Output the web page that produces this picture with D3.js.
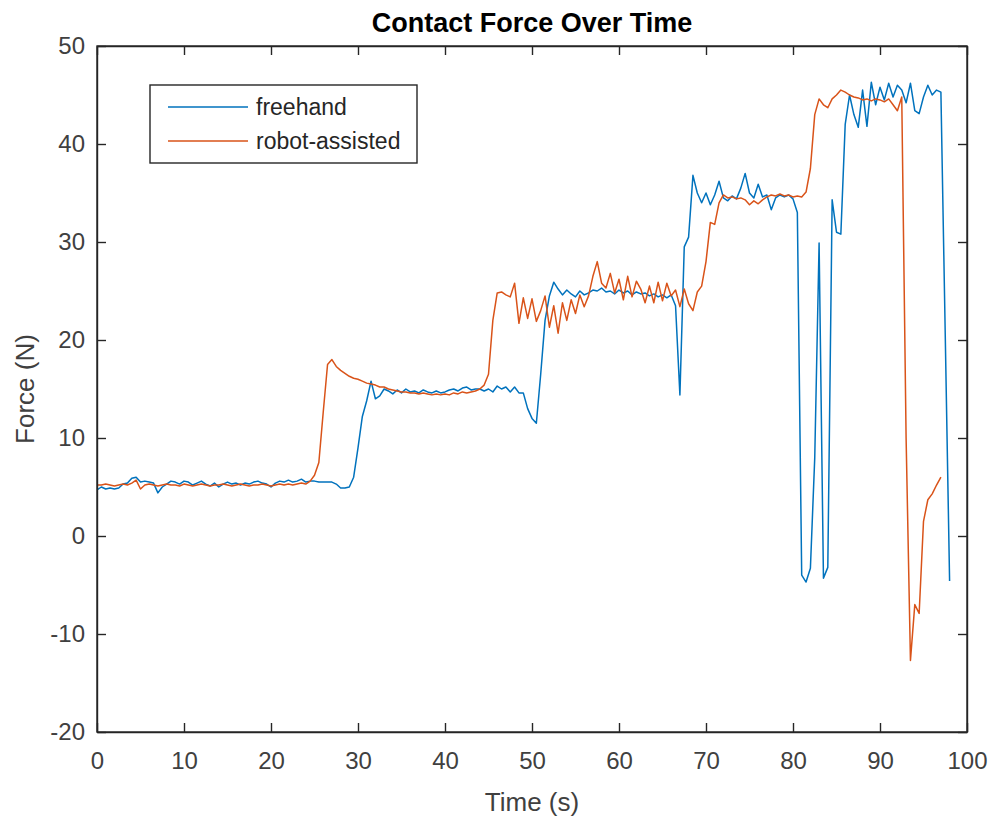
<!DOCTYPE html>
<html>
<head>
<meta charset="utf-8">
<script src="https://cdn.jsdelivr.net/npm/d3@7"></script>
<style>
  html, body { margin: 0; padding: 0; background: #fff; }
  svg { display: block; font-family: "Liberation Sans", Arial, Helvetica, sans-serif; }
</style>
</head>
<body>
<svg id="chart" width="991" height="818"></svg>
<script>
// Sampling interval of both force recordings (seconds)
const sampleStep = 0.5;

// Freehand contact force (N), one value every 0.5 s starting at t = 0
const freehandForce = [
  4.7, 5.0, 4.8, 4.9, 4.8, 4.9, 5.3, 5.4, 5.9, 6.0,
  5.5, 5.6, 5.5, 5.4, 4.4, 5.0, 5.3, 5.6, 5.5, 5.3,
  5.6, 5.5, 5.2, 5.4, 5.6, 5.3, 5.1, 5.4, 5.0, 5.3,
  5.5, 5.3, 5.4, 5.2, 5.4, 5.3, 5.5, 5.6, 5.4, 5.3,
  5.0, 5.4, 5.6, 5.5, 5.7, 5.5, 5.6, 5.8, 5.5, 5.6,
  5.6, 5.5, 5.5, 5.5, 5.5, 5.3, 4.9, 4.9, 5.0, 6.0,
  9.0, 12.2, 13.8, 15.8, 14.0, 14.3, 15.0, 14.8, 14.5, 14.9,
  14.6, 15.0, 14.7, 14.8, 14.6, 14.9, 14.7, 14.6, 14.8, 14.6,
  14.7, 14.9, 15.0, 14.8, 15.1, 15.2, 14.9, 15.0, 15.0, 14.8,
  15.0, 14.7, 15.3, 15.0, 15.2, 14.7, 15.2, 14.6, 14.6, 13.0,
  12.0, 11.5, 16.5, 22.0, 24.5, 25.9, 25.2, 24.6, 25.1, 24.7,
  24.4, 25.0, 24.6, 24.8, 25.1, 25.0, 25.3, 24.9, 25.0, 24.7,
  25.1, 24.8, 25.0, 24.6, 24.9, 24.7, 24.8, 24.5, 24.7, 24.4,
  24.6, 24.3, 24.6, 23.5, 14.4, 29.5, 30.5, 36.8, 35.0, 34.0,
  35.0, 33.8, 34.8, 36.2, 34.5, 34.2, 34.7, 34.4, 35.5, 37.0,
  35.0, 34.5, 35.9, 34.6, 34.8, 33.3, 34.5, 34.8, 34.6, 34.8,
  34.4, 33.0, -4.0, -4.7, -3.3, 8.0, 29.9, -4.3, -3.2, 34.3,
  31.0, 30.8, 42.0, 45.0, 43.0, 41.7, 45.5, 41.8, 46.3, 44.0,
  45.8, 44.5, 46.2, 44.8, 46.0, 45.5, 44.2, 46.2, 43.4, 43.1,
  44.8, 46.0, 45.0, 45.5, 45.3, 20.5, -4.6
];

// Robot-assisted contact force (N), one value every 0.5 s starting at t = 0
const robotForce = [
  5.2, 5.2, 5.3, 5.2, 5.1, 5.2, 5.3, 5.2, 5.4, 5.7,
  4.8, 5.2, 5.3, 5.2, 5.1, 5.2, 5.3, 5.2, 5.2, 5.1,
  5.3, 5.2, 5.1, 5.2, 5.3, 5.2, 5.1, 5.2, 5.2, 5.3,
  5.2, 5.1, 5.2, 5.3, 5.2, 5.1, 5.2, 5.2, 5.3, 5.2,
  5.1, 5.2, 5.3, 5.2, 5.3, 5.2, 5.3, 5.4, 5.3, 5.6,
  6.2, 7.5, 12.6, 17.5, 18.0, 17.3, 16.9, 16.6, 16.3, 16.1,
  16.0, 15.8, 15.6, 15.5, 15.4, 15.2, 15.2, 15.0, 14.9, 14.8,
  14.7, 14.7, 14.6, 14.6, 14.5, 14.6, 14.5, 14.4, 14.5, 14.4,
  14.5, 14.4, 14.6, 14.5, 14.7, 14.6, 14.7, 14.8, 15.0, 15.4,
  16.5, 22.0, 24.8, 24.9, 24.6, 24.4, 25.8, 21.7, 24.3, 22.2,
  24.2, 21.9, 23.0, 24.5, 21.3, 23.5, 20.7, 23.8, 22.0, 24.1,
  22.7, 24.6, 23.4, 24.5, 26.5, 28.0, 25.8, 25.3, 26.8, 24.8,
  26.2, 24.1, 26.5, 24.4, 26.0, 25.2, 23.8, 25.5, 23.8, 25.9,
  24.0, 25.8, 24.5, 25.1, 23.4, 25.2, 23.7, 23.0, 24.9, 25.5,
  28.0, 32.0, 31.8, 34.0, 34.8, 34.5, 34.6, 34.4, 34.5, 34.3,
  33.8, 34.2, 33.9, 34.3, 34.6, 34.8, 34.7, 34.9, 34.7, 34.8,
  34.6, 34.7, 34.6, 35.1, 37.5, 43.0, 44.6, 44.0, 43.7, 44.6,
  45.0, 45.5, 45.3, 45.0, 44.8, 44.7, 44.5, 44.6, 44.4, 44.6,
  44.5, 44.3, 44.6, 44.0, 43.4, 44.8, 10.0, -12.7, -7.0, -7.9,
  1.5, 3.7, 4.3, 5.2, 6.0
];

const seriesNames = ["freehand", "robot-assisted"];
const seriesColors = ["#0072BD", "#D95319"];

const xTicks = [0, 10, 20, 30, 40, 50, 60, 70, 80, 90, 100];
const yTicks = [-20, -10, 0, 10, 20, 30, 40, 50];

const titleText = "Contact Force Over Time";
const xLabelText = "Time (s)";
const yLabelText = "Force (N)";

// ---- layout ----
const svg = d3.select("#chart");
const plot = { left: 97, top: 46, right: 967, bottom: 732 };
const axisColor = "#262626";
const tickTextColor = "#404040";

const x = d3.scaleLinear().domain([0, 100]).range([plot.left, plot.right]);
const y = d3.scaleLinear().domain([-20, 50]).range([plot.bottom, plot.top]);

const toPoints = vals => vals.map((v, i) => [i * sampleStep, v]);
const series = [toPoints(freehandForce), toPoints(robotForce)];

// clip lines to the axes box
svg.append("defs").append("clipPath").attr("id", "plotClip")
  .append("rect")
  .attr("x", plot.left).attr("y", plot.top)
  .attr("width", plot.right - plot.left).attr("height", plot.bottom - plot.top);

// data lines
const line = d3.line().x(d => x(d[0])).y(d => y(d[1]));
const lines = svg.append("g").attr("clip-path", "url(#plotClip)");
series.forEach((pts, i) => {
  lines.append("path")
    .datum(pts)
    .attr("d", line)
    .attr("fill", "none")
    .attr("stroke", seriesColors[i])
    .attr("stroke-width", 1.5)
    .attr("stroke-linejoin", "round");
});

// axes (ticks point inward, box on all sides); plain hyphen for negatives
const tickLen = 9;
const fmt = d => String(d);

const xAxisBottom = d3.axisBottom(x).tickValues(xTicks).tickSizeInner(-tickLen).tickSizeOuter(0).tickPadding(20).tickFormat(fmt);
const xAxisTop = d3.axisTop(x).tickValues(xTicks).tickSizeInner(-tickLen).tickSizeOuter(0).tickFormat("");
const yAxisLeft = d3.axisLeft(y).tickValues(yTicks).tickSizeInner(-tickLen).tickSizeOuter(0).tickPadding(12).tickFormat(fmt);
const yAxisRight = d3.axisRight(y).tickValues(yTicks).tickSizeInner(-tickLen).tickSizeOuter(0).tickFormat("");

function styleAxis(g) {
  g.select(".domain").attr("stroke", axisColor).attr("stroke-width", 1.4);
  g.selectAll(".tick line").attr("stroke", axisColor).attr("stroke-width", 1.4);
  g.selectAll(".tick text").attr("fill", tickTextColor).attr("font-size", 24)
    .attr("font-family", "'Liberation Sans', Arial, sans-serif");
}

svg.append("g").attr("transform", `translate(0,${plot.bottom})`).call(xAxisBottom).call(styleAxis);
svg.append("g").attr("transform", `translate(0,${plot.top})`).call(xAxisTop).call(styleAxis);
svg.append("g").attr("transform", `translate(${plot.left},0)`).call(yAxisLeft).call(styleAxis);
svg.append("g").attr("transform", `translate(${plot.right},0)`).call(yAxisRight).call(styleAxis);

// closed outline of the axes box
svg.append("rect")
  .attr("x", plot.left).attr("y", plot.top)
  .attr("width", plot.right - plot.left).attr("height", plot.bottom - plot.top)
  .attr("fill", "none").attr("stroke", axisColor).attr("stroke-width", 1.4);

// title and axis labels
svg.append("text")
  .attr("x", (plot.left + plot.right) / 2).attr("y", 32)
  .attr("text-anchor", "middle")
  .attr("font-size", 27).attr("font-weight", "bold").attr("fill", "#000")
  .text(titleText);

svg.append("text")
  .attr("x", (plot.left + plot.right) / 2).attr("y", 811)
  .attr("text-anchor", "middle")
  .attr("font-size", 26).attr("fill", tickTextColor)
  .text(xLabelText);

svg.append("text")
  .attr("transform", `translate(34,${(plot.top + plot.bottom) / 2}) rotate(-90)`)
  .attr("text-anchor", "middle")
  .attr("font-size", 26).attr("fill", tickTextColor)
  .text(yLabelText);

// legend
const legend = svg.append("g");
legend.append("rect")
  .attr("x", 150).attr("y", 85).attr("width", 267).attr("height", 78)
  .attr("fill", "#fff").attr("stroke", axisColor).attr("stroke-width", 1.4);
seriesNames.forEach((name, i) => {
  const ly = 107 + i * 34;
  legend.append("line")
    .attr("x1", 168).attr("x2", 248).attr("y1", ly).attr("y2", ly)
    .attr("stroke", seriesColors[i]).attr("stroke-width", 1.5);
  legend.append("text")
    .attr("x", 256).attr("y", ly).attr("dy", "0.35em")
    .attr("font-size", 23).attr("fill", axisColor)
    .text(name);
});
</script>
</body>
</html>
